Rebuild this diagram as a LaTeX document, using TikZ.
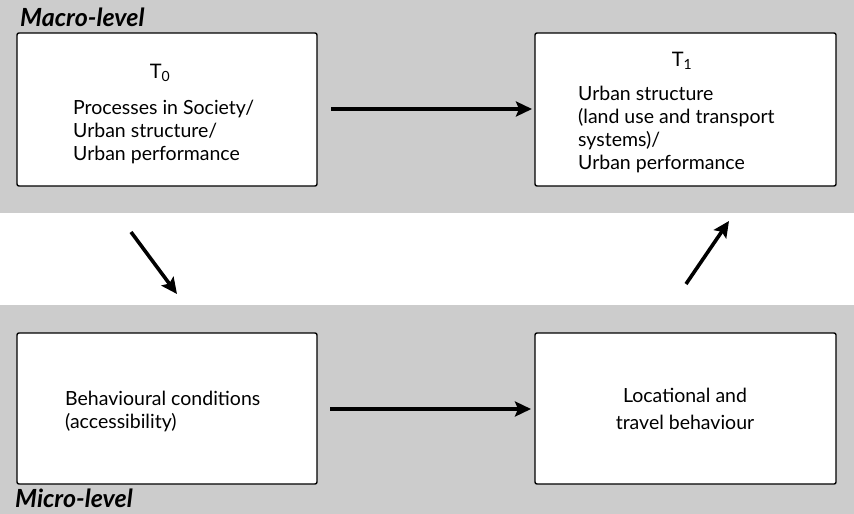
\documentclass[tikz,border=0pt]{standalone}
\usepackage{fontspec}
\setmainfont{Lato}
\usetikzlibrary{arrows.meta}
\begin{document}
\begin{tikzpicture}[x=1pt,y=-1pt,
  band/.style={fill=black!20, draw=none},
  box/.style={draw=black, line width=1.4pt, fill=white, rounded corners=2pt},
  txt/.style={font=\fontsize{19.5}{23}\selectfont, align=left, inner sep=0pt},
  ctxt/.style={font=\fontsize{19.5}{27}\selectfont, align=center, inner sep=0pt},
  lvl/.style={font=\fontsize{25}{26}\selectfont\bfseries\itshape, inner sep=0pt, anchor=base west},
  arr/.style={line width=3.6pt, -{Stealth[length=16pt,width=15pt,inset=3pt]}}]
\useasboundingbox (0,0) rectangle (854,514);
\fill[white] (0,0) rectangle (854,514);
\path[band] (0,0) rectangle (854,213);
\path[band] (0,305) rectangle (854,514);
% boxes
\draw[box] (17,33) rectangle (317,186);
\draw[box] (535,33) rectangle (836,186);
\draw[box] (17,333) rectangle (317,484);
\draw[box] (535,333) rectangle (836,484);
\coordinate (tlE) at (331,109);
\coordinate (trW) at (532,109);
\coordinate (blE) at (330,409);
\coordinate (brW) at (531,409);
% labels
\node[lvl] (macro) at (20,26) {Macro-level};
\node[lvl] (micro) at (15,507) {Micro-level};
\node[font=\fontsize{20}{24}\selectfont, inner sep=0pt, anchor=base] (t0) at (160,78) {T\textsubscript{0}};
\node[txt, anchor=north west] (tl) at (73,100) {Processes in Society/\\Urban structure/\\Urban performance};
\node[font=\fontsize{20}{24}\selectfont, inner sep=0pt, anchor=base] (t1) at (682,66) {T\textsubscript{1}};
\node[txt, anchor=north west] (tr) at (578,86) {Urban structure\\(land use and transport\\systems)/\\Urban performance};
\node[txt, anchor=north west] (bl) at (65,391) {Behavioural conditions\\(accessibility)};
\node[ctxt, anchor=north] (br) at (685,388) {Locational and\\travel behaviour};
% arrows
\coordinate (a1s) at (131,232);
\coordinate (a1e) at (177,294);
\coordinate (a2s) at (686,284);
\coordinate (a2e) at (729,221);
\draw[arr] (a1s) -- (a1e);
\draw[arr] (a2s) -- (a2e);
\draw[arr] (tlE) -- (trW);
\draw[arr] (blE) -- (brW);
\end{tikzpicture}
\end{document}
